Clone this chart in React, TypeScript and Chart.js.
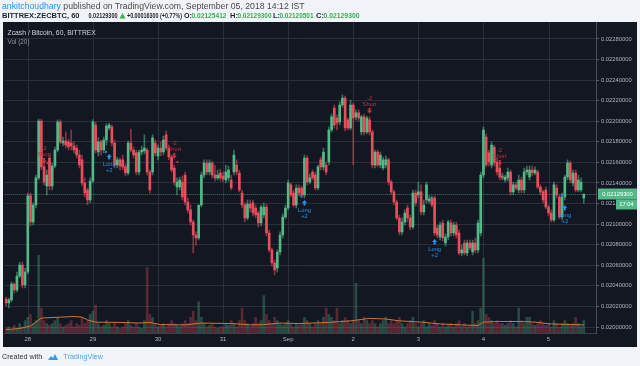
import React, { useEffect, useRef } from 'react';
import { Chart, registerables } from 'chart.js';

Chart.register(...registerables);

const FONT = '"Liberation Sans", Arial, sans-serif';

// first hourly candle: 27 Aug 2018 16:00 (chart time)
const START_TIME = Date.UTC(2018, 7, 27, 16);
const SLOT_COUNT = 218; // 214 candles + right margin
const MONTH_NAMES = ['Jan', 'Feb', 'Mar', 'Apr', 'May', 'Jun', 'Jul', 'Aug', 'Sep', 'Oct', 'Nov', 'Dec'];

const opens = [
  0.020272, 0.020233, 0.020263, 0.020418, 0.020360, 0.020496, 0.020603, 0.020408, 0.020535, 0.021274,
  0.021021, 0.021186, 0.021449, 0.022003, 0.021556, 0.021371, 0.021643, 0.021371, 0.021565, 0.021721,
  0.021993, 0.021789, 0.021808, 0.021799, 0.021789, 0.021760, 0.021740, 0.021672, 0.021624, 0.021400,
  0.021332, 0.021235, 0.021419, 0.021964, 0.021701, 0.021799, 0.021721, 0.021818, 0.021935, 0.021944,
  0.021789, 0.021575, 0.021624, 0.021624, 0.021556, 0.021497, 0.021789, 0.021721, 0.021692, 0.021507,
  0.021701, 0.021711, 0.021721, 0.021507, 0.021507, 0.021789, 0.021663, 0.021740, 0.021701, 0.021867,
  0.021740, 0.021653, 0.021546, 0.021361, 0.021361, 0.021410, 0.021478, 0.021215, 0.021138, 0.021021,
  0.020894, 0.020865, 0.021186, 0.021478, 0.021594, 0.021507, 0.021594, 0.021478, 0.021449, 0.021497,
  0.021468, 0.021429, 0.021449, 0.021429, 0.021507, 0.021575, 0.021497, 0.021303, 0.021186, 0.021060,
  0.021196, 0.021206, 0.021157, 0.021108, 0.021011, 0.021089, 0.021167, 0.020914, 0.020749, 0.020622,
  0.020574, 0.020729, 0.020894, 0.021069, 0.021157, 0.021381, 0.021303, 0.021186, 0.021351, 0.021351,
  0.021283, 0.021643, 0.021410, 0.021507, 0.021478, 0.021351, 0.021624, 0.021556, 0.021575, 0.021604,
  0.021915, 0.022129, 0.022032, 0.021993, 0.022158, 0.022226, 0.022013, 0.021935, 0.022158, 0.022042,
  0.022081, 0.021896, 0.022042, 0.021896, 0.022013, 0.021896, 0.021575, 0.021701, 0.021575, 0.021546,
  0.021575, 0.021624, 0.021410, 0.021313, 0.021215, 0.021060, 0.020924, 0.021021, 0.021157, 0.021060,
  0.020972, 0.021303, 0.021283, 0.021313, 0.021118, 0.021235, 0.021225, 0.021254, 0.021254, 0.020963,
  0.020875, 0.021011, 0.020817, 0.020875, 0.021011, 0.020914, 0.020992, 0.020914, 0.020719, 0.020817,
  0.020719, 0.020817, 0.020729, 0.020817, 0.020749, 0.020914, 0.021478, 0.021847, 0.021692, 0.021575,
  0.021750, 0.021604, 0.021546, 0.021449, 0.021429, 0.021449, 0.021507, 0.021313, 0.021381, 0.021332,
  0.021429, 0.021332, 0.021507, 0.021458, 0.021526, 0.021497, 0.021507, 0.021361, 0.021313, 0.021332,
  0.021167, 0.021108, 0.021040, 0.021351, 0.021264, 0.021069, 0.021264, 0.021458, 0.021594, 0.021400,
  0.021497, 0.021332, 0.021332, 0.02125412,
];

const highs = [
  0.020292, 0.020282, 0.020438, 0.020428, 0.020535, 0.020632, 0.020632, 0.020574, 0.021303, 0.021303,
  0.021206, 0.021478, 0.022022, 0.022022, 0.021624, 0.021526, 0.021672, 0.021594, 0.021750, 0.022013,
  0.022013, 0.021847, 0.021896, 0.021828, 0.021915, 0.021799, 0.021769, 0.021721, 0.021672, 0.021449,
  0.021351, 0.021449, 0.022013, 0.021993, 0.021838, 0.021818, 0.021847, 0.021974, 0.021983, 0.021964,
  0.021818, 0.021653, 0.021643, 0.021672, 0.021585, 0.021808, 0.021925, 0.021750, 0.021721, 0.021721,
  0.021760, 0.021867, 0.021740, 0.021526, 0.021867, 0.021818, 0.021769, 0.021799, 0.021857, 0.021906,
  0.021769, 0.021672, 0.021575, 0.021449, 0.021458, 0.021468, 0.021507, 0.021254, 0.021186, 0.021040,
  0.020924, 0.021089, 0.021507, 0.021624, 0.021624, 0.021624, 0.021614, 0.021575, 0.021526, 0.021536,
  0.021507, 0.021575, 0.021565, 0.021478, 0.021721, 0.021624, 0.021526, 0.021332, 0.021206, 0.021235,
  0.021235, 0.021235, 0.021186, 0.021128, 0.021186, 0.021206, 0.021196, 0.020943, 0.020768, 0.020651,
  0.020749, 0.020924, 0.021099, 0.021186, 0.021429, 0.021400, 0.021332, 0.021381, 0.021381, 0.021371,
  0.021672, 0.021663, 0.021488, 0.021526, 0.021507, 0.021575, 0.021653, 0.021740, 0.021604, 0.021944,
  0.022071, 0.022158, 0.022061, 0.022188, 0.022256, 0.022246, 0.022032, 0.022207, 0.022178, 0.022110,
  0.022110, 0.022061, 0.022071, 0.022051, 0.022042, 0.021915, 0.021721, 0.021721, 0.021701, 0.021653,
  0.021663, 0.021643, 0.021429, 0.021332, 0.021235, 0.021089, 0.021060, 0.021138, 0.021186, 0.021089,
  0.021332, 0.021332, 0.021410, 0.021381, 0.021235, 0.021410, 0.021274, 0.021274, 0.021274, 0.020992,
  0.021021, 0.021040, 0.020904, 0.021040, 0.021040, 0.021021, 0.021021, 0.020943, 0.020797, 0.020846,
  0.020846, 0.020846, 0.020846, 0.020865, 0.021040, 0.021507, 0.021944, 0.021876, 0.021721, 0.021799,
  0.021769, 0.021643, 0.021575, 0.021497, 0.021478, 0.021546, 0.021526, 0.021410, 0.021410, 0.021478,
  0.021458, 0.021546, 0.021565, 0.021565, 0.021565, 0.021556, 0.021526, 0.021381, 0.021332, 0.021361,
  0.021186, 0.021138, 0.021410, 0.021381, 0.021283, 0.021303, 0.021478, 0.021624, 0.021614, 0.021526,
  0.021526, 0.021478, 0.021449, 0.021293,
];

const lows = [
  0.020204, 0.020185, 0.020243, 0.020331, 0.020340, 0.020476, 0.020379, 0.020379, 0.020515, 0.020982,
  0.020992, 0.021157, 0.021429, 0.021526, 0.021381, 0.021283, 0.021332, 0.021332, 0.021546, 0.021701,
  0.021779, 0.021760, 0.021740, 0.021721, 0.021721, 0.021692, 0.021643, 0.021546, 0.021371, 0.021264,
  0.021186, 0.021206, 0.021400, 0.021692, 0.021663, 0.021672, 0.021692, 0.021769, 0.021915, 0.021760,
  0.021546, 0.021546, 0.021526, 0.021526, 0.021468, 0.021478, 0.021701, 0.021643, 0.021478, 0.021478,
  0.021672, 0.021682, 0.021478, 0.021303, 0.021478, 0.021663, 0.021624, 0.021663, 0.021672, 0.021721,
  0.021624, 0.021507, 0.021381, 0.021283, 0.021332, 0.021235, 0.021186, 0.021108, 0.020992, 0.020719,
  0.020797, 0.020846, 0.021167, 0.021449, 0.021478, 0.021478, 0.021449, 0.021419, 0.021429, 0.021419,
  0.021410, 0.021400, 0.021419, 0.021332, 0.021478, 0.021478, 0.021313, 0.021157, 0.021021, 0.021040,
  0.021118, 0.021079, 0.021060, 0.020972, 0.020982, 0.021060, 0.020885, 0.020729, 0.020593, 0.020506,
  0.020535, 0.020700, 0.020865, 0.021050, 0.021138, 0.021264, 0.021167, 0.021157, 0.021274, 0.021254,
  0.021254, 0.021381, 0.021390, 0.021429, 0.021332, 0.021332, 0.021526, 0.021526, 0.021478, 0.021575,
  0.021896, 0.021935, 0.021915, 0.021964, 0.022139, 0.021906, 0.021915, 0.021915, 0.021575, 0.022013,
  0.022003, 0.021867, 0.021867, 0.021876, 0.021867, 0.021546, 0.021546, 0.021556, 0.021546, 0.021526,
  0.021546, 0.021381, 0.021293, 0.021186, 0.021040, 0.020894, 0.020894, 0.020992, 0.021021, 0.020943,
  0.020953, 0.021176, 0.021254, 0.021089, 0.021089, 0.021206, 0.021206, 0.021167, 0.020885, 0.020865,
  0.020846, 0.020836, 0.020788, 0.020846, 0.020885, 0.020885, 0.020865, 0.020700, 0.020690, 0.020700,
  0.020690, 0.020749, 0.020700, 0.020719, 0.020719, 0.020885, 0.021449, 0.021556, 0.021565, 0.021546,
  0.021565, 0.021478, 0.021429, 0.021429, 0.021410, 0.021419, 0.021283, 0.021283, 0.021332, 0.021303,
  0.021303, 0.021303, 0.021478, 0.021429, 0.021468, 0.021478, 0.021342, 0.021283, 0.021206, 0.021147,
  0.021079, 0.021021, 0.021021, 0.021254, 0.021050, 0.021040, 0.021235, 0.021429, 0.021400, 0.021371,
  0.021313, 0.021313, 0.021313, 0.02120501,
];

const closes = [
  0.020233, 0.020263, 0.020418, 0.020360, 0.020496, 0.020603, 0.020408, 0.020535, 0.021274, 0.021021,
  0.021186, 0.021449, 0.022003, 0.021556, 0.021410, 0.021478, 0.021371, 0.021565, 0.021721, 0.021993,
  0.021799, 0.021808, 0.021769, 0.021750, 0.021760, 0.021721, 0.021672, 0.021575, 0.021400, 0.021303,
  0.021235, 0.021419, 0.021993, 0.021721, 0.021799, 0.021721, 0.021818, 0.021954, 0.021964, 0.021789,
  0.021575, 0.021624, 0.021565, 0.021556, 0.021497, 0.021789, 0.021721, 0.021672, 0.021507, 0.021701,
  0.021721, 0.021740, 0.021507, 0.021332, 0.021838, 0.021692, 0.021740, 0.021701, 0.021818, 0.021740,
  0.021653, 0.021526, 0.021410, 0.021410, 0.021429, 0.021264, 0.021215, 0.021138, 0.021021, 0.020894,
  0.020865, 0.021186, 0.021478, 0.021594, 0.021507, 0.021594, 0.021478, 0.021449, 0.021478, 0.021449,
  0.021439, 0.021507, 0.021526, 0.021351, 0.021672, 0.021507, 0.021332, 0.021186, 0.021060, 0.021196,
  0.021157, 0.021108, 0.021089, 0.021011, 0.021167, 0.021167, 0.020914, 0.020749, 0.020622, 0.020554,
  0.020729, 0.020894, 0.021069, 0.021157, 0.021400, 0.021283, 0.021186, 0.021351, 0.021303, 0.021283,
  0.021643, 0.021410, 0.021449, 0.021449, 0.021351, 0.021556, 0.021556, 0.021701, 0.021507, 0.021915,
  0.022042, 0.021964, 0.021983, 0.022158, 0.022226, 0.021935, 0.021935, 0.022158, 0.022032, 0.022081,
  0.022032, 0.022042, 0.021896, 0.022032, 0.021896, 0.021575, 0.021701, 0.021575, 0.021672, 0.021624,
  0.021624, 0.021410, 0.021313, 0.021215, 0.021060, 0.020924, 0.021021, 0.021108, 0.021060, 0.020972,
  0.021303, 0.021206, 0.021313, 0.021118, 0.021186, 0.021381, 0.021244, 0.021186, 0.020914, 0.020894,
  0.020992, 0.020865, 0.020875, 0.021021, 0.020914, 0.020992, 0.020894, 0.020719, 0.020749, 0.020719,
  0.020817, 0.020768, 0.020817, 0.020749, 0.021011, 0.021478, 0.021915, 0.021575, 0.021604, 0.021769,
  0.021594, 0.021507, 0.021458, 0.021468, 0.021458, 0.021507, 0.021313, 0.021381, 0.021351, 0.021429,
  0.021332, 0.021507, 0.021526, 0.021526, 0.021497, 0.021526, 0.021361, 0.021313, 0.021235, 0.021167,
  0.021108, 0.021040, 0.021381, 0.021283, 0.021069, 0.021264, 0.021458, 0.021594, 0.021429, 0.021497,
  0.021332, 0.021429, 0.021410, 0.021293,
];

const volumes = [
  1.5, 2, 1, 2.5, 1.5, 3, 2, 4,
  5, 6, 3, 4, 25, 8, 4, 3,
  2.5, 3, 4, 5, 3, 2, 2.5, 3,
  4, 2, 3, 2.5, 5, 3, 4, 6,
  7, 9, 3, 2, 2.5, 4, 3, 2,
  3, 2, 1.5, 2, 3, 4, 2.5, 2,
  3, 2, 1.5, 4, 21, 6, 5, 3,
  2, 2.5, 3, 2, 3, 4, 3, 2.5,
  2, 3, 4, 3, 5, 7, 4, 10,
  5, 3, 2, 2.5, 3, 2, 1.5, 2,
  2, 3, 2.5, 4, 3, 2, 4, 8,
  4, 3, 2, 3, 5, 3, 4, 12,
  6, 4, 3, 5, 4, 3, 2.5, 3,
  4, 3, 2, 3, 2.5, 3, 5, 4,
  3, 2, 3, 4, 3, 5, 8, 6,
  5, 4, 8, 3, 4, 5, 4, 3,
  4, 16, 4, 3, 5, 4, 3, 4,
  3, 2, 3, 4, 5, 3, 4, 3,
  4, 5, 3, 2, 3, 4, 5, 3,
  2, 3, 4, 2, 3, 2.5, 4, 3,
  2, 3, 2, 2.5, 3, 2, 3, 4,
  2, 3, 2, 2.5, 7, 3, 4, 8,
  24, 6, 5, 4, 3, 4, 3, 3,
  2.5, 3, 4, 3, 2, 8, 4, 3,
  5, 5, 3, 2.5, 3, 4, 3, 2.5,
  3, 2, 4, 3, 2, 3, 4, 3,
  2.5, 3, 5, 3, 2, 4,
];

// Vol (20) moving-average line, read at selected candles
const volMaIndex = [0, 5, 9, 11, 13, 20, 25, 28, 30, 33, 42, 49, 53, 57, 66, 72, 83, 90, 95, 101, 108, 119, 127, 134, 140, 145, 153, 160, 168, 174, 176, 182, 190, 195, 201, 213];
const volMaValues = [1.1, 1.45, 2.25, 3.5, 4.8, 5.1, 5.3, 5.1, 4.2, 3.5, 3.4, 3.2, 3.4, 2.7, 2.6, 3.2, 3.05, 2.6, 2.7, 3.2, 3.05, 3.4, 3.9, 4.7, 4.5, 3.9, 3.5, 2.9, 2.6, 2.4, 3.5, 3.7, 3.7, 3.5, 2.9, 2.6];

// strategy signals
const signalKind = ['short', 'long', 'short', 'long', 'short', 'long', 'short', 'long'];
const signalIndex = [14, 38, 62, 110, 134, 158, 182, 206];
const signalPrice = [0.021614, 0.021653, 0.021663, 0.021206, 0.022100, 0.020826, 0.021594, 0.021157];
const signalFill = [0.021594, 0.021701, 0.021604, 0.021274, 0.021896, 0.021254, 0.021458, 0.021283];
const signalText = ['-2', '+2', '-2', '+2', '-2', '+2', '-2', '+2'];

// symbol info line (text, left x, max width, green?)
const infoTexts = ['BITTREX:ZECBTC, 60', '0.02129300', '+0.00016300 (+0.77%)', 'O:', '0.02125412', 'H:', '0.02129300', 'L:', '0.02120501', 'C:', '0.02129300'];
const infoLeft = [2, 88.5, 127, 184, 191.5, 230, 237.5, 273, 279.5, 316, 323.5];
const infoWidth = [81, 29, 55, 8, 35, 8, 34, 7, 34, 8, 36];
const infoGreen = [false, false, false, false, true, false, true, false, true, false, true];

const PRICE_MIN = 0.0199417;
const PRICE_MAX = 0.022965;
const PRICE_STEP = 0.0002;
const LAST_PRICE = 0.021293;
const LAST_PRICE_LABEL = '0.02129300';
const COUNTDOWN_LABEL = '17:04';

const UP = '#53b987';
const DOWN = '#eb4d5c';
const GRID = '#2a2f3c';
const PANEL = '#131722';
const INFO_GREEN = '#3aae52';

export default function App() {
  const canvasRef = useRef<HTMLCanvasElement>(null);

  useEffect(() => {
    const canvas = canvasRef.current;
    if (!canvas) return;
    const slots = Array.from({ length: SLOT_COUNT }, (_, i) => START_TIME + i * 3600000);
    const isDayStart = (i: number) => i >= 0 && i < slots.length && new Date(slots[i]).getUTCHours() === 0;
    const dayLabel = (i: number) => {
      const d = new Date(slots[i]);
      return d.getUTCDate() === 1 ? MONTH_NAMES[d.getUTCMonth()] : String(d.getUTCDate());
    };
    const isUp = opens.map((o, i) => closes[i] >= o);

    const maLine: (number | null)[] = slots.map(() => null);
    volMaIndex.forEach((idx, k) => { maLine[idx] = volMaValues[k]; });

    const overlay = {
      id: 'tvOverlay',
      beforeDraw(chart: any) {
        const c = chart.ctx;
        c.save();
        c.fillStyle = PANEL;
        c.fillRect(3, 22, 634, 325);
        c.restore();
      },
      beforeDatasetsDraw(chart: any) {
        const { ctx: c, chartArea: a, scales } = chart;
        c.save();
        c.strokeStyle = GRID;
        c.lineWidth = 1;
        slots.forEach((_, i) => {
          if (!isDayStart(i)) return;
          const gx = Math.round(scales.x.getPixelForValue(i)) + 0.5;
          c.beginPath();
          c.moveTo(gx, a.top);
          c.lineTo(gx, a.bottom);
          c.stroke();
        });
        const py = Math.round(scales.y.getPixelForValue(LAST_PRICE)) + 0.5;
        c.strokeStyle = 'rgba(83,185,135,0.6)';
        c.setLineDash([1, 1]);
        c.beginPath();
        c.moveTo(a.left, py);
        c.lineTo(a.right, py);
        c.stroke();
        c.restore();
      },
      afterDatasetsDraw(chart: any) {
        const { ctx: c, scales } = chart;
        c.save();
        c.font = `5.8px ${FONT}`;
        c.textAlign = 'center';
        c.textBaseline = 'middle';
        signalKind.forEach((kind, k) => {
          const cx = scales.x.getPixelForValue(signalIndex[k]);
          const ay = scales.y.getPixelForValue(signalPrice[k]);
          const fy = scales.y.getPixelForValue(signalFill[k]);
          if (kind === 'long') {
            const col = '#2196f3';
            c.fillStyle = col;
            c.beginPath();
            c.moveTo(cx, ay - 3);
            c.lineTo(cx + 2.5, ay);
            c.lineTo(cx - 2.5, ay);
            c.closePath();
            c.fill();
            c.fillRect(cx - 1, ay, 2, 2.5);
            c.fillText('Long', cx, ay + 7.5);
            c.fillText(signalText[k], cx, ay + 13.5);
            c.beginPath();
            c.moveTo(cx - 4, fy - 1.5);
            c.lineTo(cx - 1.5, fy);
            c.lineTo(cx - 4, fy + 1.5);
            c.closePath();
            c.fill();
          } else {
            const col = '#d6323f';
            c.fillStyle = col;
            c.fillRect(cx - 1, ay - 3, 2, 2.5);
            c.beginPath();
            c.moveTo(cx - 2.5, ay - 0.5);
            c.lineTo(cx + 2.5, ay - 0.5);
            c.lineTo(cx, ay + 2.5);
            c.closePath();
            c.fill();
            c.fillStyle = '#c0333e';
            c.fillText('Short', cx, ay - 7);
            c.fillText(signalText[k], cx, ay - 13);
            c.fillStyle = col;
            c.beginPath();
            c.moveTo(cx + 4, fy - 1.5);
            c.lineTo(cx + 1.5, fy);
            c.lineTo(cx + 4, fy + 1.5);
            c.closePath();
            c.fill();
          }
        });
        c.restore();
      },
      afterDraw(chart: any) {
        const { ctx: c, scales } = chart;
        c.save();
        // symbol info line above the panel
        c.textAlign = 'left';
        c.textBaseline = 'middle';
        c.font = `bold 7.5px ${FONT}`;
        infoTexts.forEach((t, k) => {
          c.fillStyle = infoGreen[k] ? INFO_GREEN : '#1e222d';
          c.fillText(t, infoLeft[k], 16, infoWidth[k]);
        });
        c.fillStyle = INFO_GREEN;
        c.beginPath();
        c.moveTo(122.5, 13);
        c.lineTo(125.5, 18.5);
        c.lineTo(119.5, 18.5);
        c.closePath();
        c.fill();
        // pane legend
        c.fillStyle = '#d1d4dc';
        c.font = `6.8px ${FONT}`;
        c.fillText('Zcash / Bitcoin, 60, BITTREX', 7.5, 33);
        c.fillStyle = '#9598a1';
        c.font = `6.4px ${FONT}`;
        c.fillText('Vol (20)', 7.5, 42);
        // last price labels
        const py = Math.round(scales.y.getPixelForValue(LAST_PRICE));
        c.fillStyle = UP;
        c.fillRect(598, py - 5.5, 39, 11);
        c.fillRect(616, py + 5.5, 21, 10);
        c.fillStyle = '#ffffff';
        c.font = `5.8px ${FONT}`;
        c.textAlign = 'center';
        c.fillText(LAST_PRICE_LABEL, 617.5, py + 0.5);
        c.fillText(COUNTDOWN_LABEL, 626.5, py + 10.5);
        c.restore();
      },
    };

    const chart = new Chart(canvas, {
      type: 'bar',
      data: {
        labels: slots,
        datasets: [
          {
            type: 'line',
            data: maLine,
            yAxisID: 'vol',
            borderColor: '#c9773a',
            borderWidth: 1,
            pointRadius: 0,
            spanGaps: true,
            tension: 0,
            order: 0,
          } as any,
          {
            data: opens.map((o, i) => [o, closes[i]]),
            yAxisID: 'y',
            backgroundColor: isUp.map((u) => (u ? UP : DOWN)),
            barThickness: 2,
            grouped: false,
            minBarLength: 1,
            order: 1,
          } as any,
          {
            data: lows.map((l, i) => [l, highs[i]]),
            yAxisID: 'y',
            backgroundColor: isUp.map((u) => (u ? 'rgba(83,185,135,0.55)' : 'rgba(235,77,92,0.55)')),
            barThickness: 1,
            grouped: false,
            order: 2,
          } as any,
          {
            data: volumes,
            yAxisID: 'vol',
            backgroundColor: isUp.map((u) => (u ? 'rgba(83,185,135,0.32)' : 'rgba(235,77,92,0.32)')),
            barThickness: 2,
            grouped: false,
            order: 3,
          } as any,
        ],
      },
      options: {
        responsive: false,
        devicePixelRatio: 1,
        animation: false,
        layout: { padding: { left: 4.75, top: 22, right: 3, bottom: 19 } },
        plugins: { legend: { display: false }, tooltip: { enabled: false } },
        scales: {
          x: {
            type: 'category',
            offset: true,
            afterFit: (s: any) => { s.height = 14; },
            grid: { display: false, drawTicks: false },
            border: { display: true, color: '#3a3f4c' },
            ticks: {
              autoSkip: false,
              maxRotation: 0,
              minRotation: 0,
              padding: 3,
              color: '#b2b5be',
              font: { size: 6, family: FONT },
              callback: (_v: any, i: number) => (isDayStart(i) ? dayLabel(i) : null),
            },
          },
          y: {
            type: 'linear',
            position: 'right',
            min: PRICE_MIN,
            max: PRICE_MAX,
            afterFit: (s: any) => { s.width = 41; },
            grid: { color: GRID, drawTicks: true, tickLength: 3, tickColor: '#5d6270' },
            border: { display: true, color: '#4a4f5c' },
            ticks: {
              stepSize: PRICE_STEP,
              includeBounds: false,
              padding: 2,
              color: '#b2b5be',
              font: { size: 5.8, family: FONT },
              callback: (v: any) => Number(v).toFixed(8),
            },
          },
          vol: {
            type: 'linear',
            display: false,
            min: 0,
            max: 100,
          },
        },
      } as any,
      plugins: [overlay],
    });
    return () => chart.destroy();
  }, []);

  return (
    <div style={{ position: 'absolute', left: 0, top: 0, width: 640, height: 366, background: '#f0f3f8', overflow: 'hidden', fontFamily: FONT }}>
      <canvas ref={canvasRef} width={640} height={366} style={{ position: 'absolute', left: 0, top: 0, width: 640, height: 366 }} />
      <div style={{ position: 'absolute', left: 2, top: 1, fontSize: 8.7, lineHeight: '10px', color: '#4a4a4a', whiteSpace: 'nowrap' }}>
        <span style={{ color: '#2196f3' }}>ankitchoudhary</span> published on TradingView.com, September 05, 2018 14:12 IST
      </div>
      <div style={{ position: 'absolute', left: 2, top: 352, fontSize: 7.2, lineHeight: '10px', color: '#333', whiteSpace: 'nowrap', display: 'flex', alignItems: 'center' }}>
        <span>Created with</span>
        <svg width="12" height="8" viewBox="0 0 12 8" style={{ marginLeft: 5, marginRight: 4 }}>
          <path d="M1 7 L4 3 L6 5 L8 1 L11 7 Z" fill="#2e9be6" />
        </svg>
        <span style={{ color: '#4aa8e8' }}>TradingView</span>
      </div>
    </div>
  );
}
